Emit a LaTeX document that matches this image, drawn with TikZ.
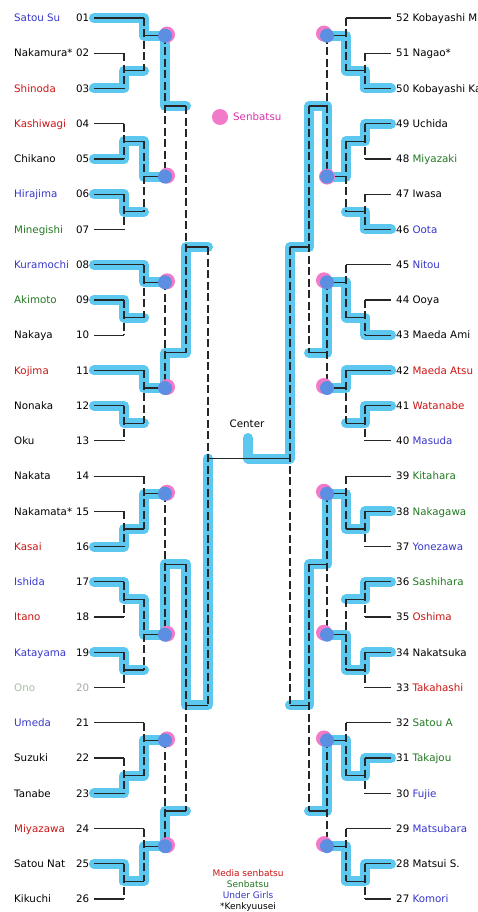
\documentclass[tikz,border=0pt]{standalone}
\usepackage{fontspec}
\setmainfont{DejaVu Sans}
\definecolor{hlblue}{RGB}{92,200,240}
\definecolor{dotblue}{RGB}{92,142,226}
\definecolor{dotpink}{RGB}{242,122,200}
\definecolor{senpink}{RGB}{214,51,168}
\definecolor{mred}{RGB}{204,20,20}
\definecolor{sgreen}{RGB}{34,120,34}
\definecolor{ublue}{RGB}{55,55,205}
\definecolor{onog}{RGB}{165,190,165}

\begin{document}
\begin{tikzpicture}[x=1pt,y=-1pt,
  hl/.style={line width=10pt,draw=hlblue,line cap=round,line join=round},
  hline/.style={line width=1.2pt,draw=black!85},
  vline/.style={line width=1.2pt,draw=black!85,dash pattern=on 8pt off 3.5pt},
  lname/.style={anchor=west,inner sep=0pt,text height=7.5pt,text depth=0pt,font=\fontsize{10.3}{12}\selectfont},
  lnum/.style={lname,anchor=east},
  sdot/.style={circle,fill=dotpink,minimum size=16pt,inner sep=0pt},
  wdot/.style={circle,fill=dotblue,minimum size=14pt,inner sep=0pt},
  legend/.style={anchor=center,inner sep=0pt,text height=6.5pt,text depth=0pt,font=\fontsize{9}{11}\selectfont}]
\fill[white] (0,0) rectangle (477,912);
\useasboundingbox (0,0) rectangle (477,912);

\draw[hl] (94,18.00)--(144,18.00)--(144,35.62)--(165,35.62)--(165,106.10)--(186,106.10);
\draw[hl] (94,88.48)--(124,88.48)--(124,70.86)--(144,70.86);
\draw[hl] (94,158.96)--(124,158.96)--(124,141.34)--(144,141.34)--(144,176.58)--(165,176.58);
\draw[hl] (94,194.20)--(124,194.20)--(124,211.82)--(144,211.82);
\draw[hl] (94,264.68)--(144,264.68)--(144,282.30)--(165,282.30);
\draw[hl] (94,299.92)--(124,299.92)--(124,317.54)--(144,317.54);
\draw[hl] (94,370.40)--(144,370.40)--(144,388.02)--(165,388.02)--(165,352.78)--(186,352.78)--(186,247.06)--(208,247.06);
\draw[hl] (94,405.64)--(124,405.64)--(124,423.26)--(144,423.26);
\draw[hl] (94,546.60)--(124,546.60)--(124,528.98)--(144,528.98)--(144,493.74)--(165,493.74);
\draw[hl] (94,581.84)--(124,581.84)--(124,599.46)--(144,599.46)--(144,634.70)--(165,634.70)--(165,564.22)--(186,564.22)--(186,705.18)--(208,705.18)--(208,458.50);
\draw[hl] (94,652.32)--(124,652.32)--(124,669.94)--(144,669.94);
\draw[hl] (94,793.28)--(124,793.28)--(124,775.66)--(144,775.66)--(144,740.42)--(165,740.42);
\draw[hl] (94,863.76)--(124,863.76)--(124,881.38)--(144,881.38)--(144,846.14)--(165,846.14)--(165,810.90)--(186,810.90);

\draw[hl] (391,88.48)--(365,88.48)--(365,70.86)--(346,70.86)--(346,35.62)--(327,35.62);
\draw[hl] (391,123.72)--(365,123.72)--(365,141.34)--(346,141.34)--(346,176.58)--(327,176.58)--(327,106.10)--(309,106.10)--(309,247.06)--(290,247.06)--(290,458.50)--(248,458.50)--(248,438);
\draw[hl] (391,229.44)--(365,229.44)--(365,211.82)--(346,211.82);
\draw[hl] (391,335.16)--(365,335.16)--(365,317.54)--(346,317.54)--(346,282.30)--(327,282.30)--(327,352.78)--(309,352.78);
\draw[hl] (391,370.40)--(346,370.40)--(346,388.02)--(327,388.02);
\draw[hl] (391,405.64)--(365,405.64)--(365,423.26)--(346,423.26);
\draw[hl] (391,511.36)--(365,511.36)--(365,528.98)--(346,528.98)--(346,493.74)--(327,493.74)--(327,564.22)--(309,564.22)--(309,705.18)--(290,705.18);
\draw[hl] (391,581.84)--(365,581.84)--(365,599.46)--(346,599.46);
\draw[hl] (391,652.32)--(365,652.32)--(365,669.94)--(346,669.94)--(346,634.70)--(327,634.70);
\draw[hl] (391,758.04)--(365,758.04)--(365,775.66)--(346,775.66)--(346,740.42)--(327,740.42)--(327,810.90)--(309,810.90);
\draw[hl] (391,863.76)--(365,863.76)--(365,881.38)--(346,881.38)--(346,846.14)--(327,846.14);

\draw[hline] (94,18.00)--(144,18.00) (94,53.24)--(124,53.24) (94,88.48)--(124,88.48) (94,123.72)--(124,123.72) (94,158.96)--(124,158.96) (94,194.20)--(124,194.20) (94,229.44)--(124,229.44);
\draw[hline] (94,264.68)--(144,264.68) (94,299.92)--(124,299.92) (94,335.16)--(124,335.16) (94,370.40)--(144,370.40) (94,405.64)--(124,405.64) (94,440.88)--(124,440.88);
\draw[hline] (94,476.12)--(144,476.12) (94,511.36)--(124,511.36) (94,546.60)--(124,546.60) (94,581.84)--(124,581.84) (94,617.08)--(124,617.08) (94,652.32)--(124,652.32) (94,687.56)--(124,687.56);
\draw[hline] (94,722.80)--(144,722.80) (94,758.04)--(124,758.04) (94,793.28)--(124,793.28) (94,828.52)--(144,828.52) (94,863.76)--(124,863.76) (94,899.00)--(124,899.00);
\draw[vline] (124,53.24)--(124,88.48) (124,123.72)--(124,158.96) (124,194.20)--(124,229.44) (124,299.92)--(124,335.16) (124,405.64)--(124,440.88) (124,511.36)--(124,546.60) (124,581.84)--(124,617.08) (124,652.32)--(124,687.56) (124,758.04)--(124,793.28) (124,863.76)--(124,899.00);
\draw[hline] (124,70.86)--(144,70.86) (124,141.34)--(144,141.34) (124,211.82)--(144,211.82) (124,317.54)--(144,317.54) (124,423.26)--(144,423.26) (124,528.98)--(144,528.98) (124,599.46)--(144,599.46) (124,669.94)--(144,669.94) (124,775.66)--(144,775.66) (124,881.38)--(144,881.38);
\draw[vline] (144,18.00)--(144,70.86) (144,141.34)--(144,211.82) (144,264.68)--(144,317.54) (144,370.40)--(144,423.26) (144,476.12)--(144,528.98) (144,599.46)--(144,669.94) (144,722.80)--(144,775.66) (144,828.52)--(144,881.38);
\draw[hline] (144,35.62)--(165,35.62) (144,176.58)--(165,176.58) (144,282.30)--(165,282.30) (144,388.02)--(165,388.02) (144,493.74)--(165,493.74) (144,634.70)--(165,634.70) (144,740.42)--(165,740.42) (144,846.14)--(165,846.14);
\draw[vline] (165,35.62)--(165,176.58) (165,282.30)--(165,388.02) (165,493.74)--(165,634.70) (165,740.42)--(165,846.14);
\draw[hline] (165,106.10)--(186,106.10) (165,352.78)--(186,352.78) (165,564.22)--(186,564.22) (165,810.90)--(186,810.90);
\draw[vline] (186,106.10)--(186,352.78) (186,564.22)--(186,810.90);
\draw[hline] (186,247.06)--(208,247.06) (186,705.18)--(208,705.18);
\draw[vline] (208,247.06)--(208,705.18);
\draw[hline] (208,458.50)--(290,458.50);

\draw[hline] (391,18.00)--(346,18.00) (391,53.24)--(365,53.24) (391,88.48)--(365,88.48) (391,123.72)--(365,123.72) (391,158.96)--(365,158.96) (391,194.20)--(365,194.20) (391,229.44)--(365,229.44);
\draw[hline] (391,264.68)--(346,264.68) (391,299.92)--(365,299.92) (391,335.16)--(365,335.16) (391,370.40)--(346,370.40) (391,405.64)--(365,405.64) (391,440.88)--(365,440.88);
\draw[hline] (391,476.12)--(346,476.12) (391,511.36)--(365,511.36) (391,546.60)--(365,546.60) (391,581.84)--(365,581.84) (391,617.08)--(365,617.08) (391,652.32)--(365,652.32) (391,687.56)--(365,687.56);
\draw[hline] (391,722.80)--(346,722.80) (391,758.04)--(365,758.04) (391,793.28)--(365,793.28) (391,828.52)--(346,828.52) (391,863.76)--(365,863.76) (391,899.00)--(365,899.00);
\draw[vline] (365,53.24)--(365,88.48) (365,123.72)--(365,158.96) (365,194.20)--(365,229.44) (365,299.92)--(365,335.16) (365,405.64)--(365,440.88) (365,511.36)--(365,546.60) (365,581.84)--(365,617.08) (365,652.32)--(365,687.56) (365,758.04)--(365,793.28) (365,863.76)--(365,899.00);
\draw[hline] (365,70.86)--(346,70.86) (365,141.34)--(346,141.34) (365,211.82)--(346,211.82) (365,317.54)--(346,317.54) (365,423.26)--(346,423.26) (365,528.98)--(346,528.98) (365,599.46)--(346,599.46) (365,669.94)--(346,669.94) (365,775.66)--(346,775.66) (365,881.38)--(346,881.38);
\draw[vline] (346,18.00)--(346,70.86) (346,141.34)--(346,211.82) (346,264.68)--(346,317.54) (346,370.40)--(346,423.26) (346,476.12)--(346,528.98) (346,599.46)--(346,669.94) (346,722.80)--(346,775.66) (346,828.52)--(346,881.38);
\draw[hline] (346,35.62)--(327,35.62) (346,176.58)--(327,176.58) (346,282.30)--(327,282.30) (346,388.02)--(327,388.02) (346,493.74)--(327,493.74) (346,634.70)--(327,634.70) (346,740.42)--(327,740.42) (346,846.14)--(327,846.14);
\draw[vline] (327,35.62)--(327,176.58) (327,282.30)--(327,388.02) (327,493.74)--(327,634.70) (327,740.42)--(327,846.14);
\draw[hline] (327,106.10)--(309,106.10) (327,352.78)--(309,352.78) (327,564.22)--(309,564.22) (327,810.90)--(309,810.90);
\draw[vline] (309,106.10)--(309,352.78) (309,564.22)--(309,810.90);
\draw[hline] (309,247.06)--(290,247.06) (309,705.18)--(290,705.18);
\draw[vline] (290,247.06)--(290,705.18);

\node[sdot] (sl1) at (167,34.6) {};
\node[sdot] (sl2) at (167,175.6) {};
\node[sdot] (sl3) at (167,281.3) {};
\node[sdot] (sl4) at (167,387.0) {};
\node[sdot] (sl5) at (167,492.7) {};
\node[sdot] (sl6) at (167,633.7) {};
\node[sdot] (sl7) at (167,739.4) {};
\node[sdot] (sl8) at (167,845.1) {};
\node[sdot] (sr1) at (324,33.6) {};
\node[sdot] (sr2) at (327,176.6) {};
\node[sdot] (sr3) at (324,280.3) {};
\node[sdot] (sr4) at (324,386.0) {};
\node[sdot] (sr5) at (324,491.7) {};
\node[sdot] (sr6) at (324,632.7) {};
\node[sdot] (sr7) at (324,738.4) {};
\node[sdot] (sr8) at (324,844.1) {};
\node[wdot] (wl1) at (165,35.62) {};
\node[wdot] (wl2) at (165,176.58) {};
\node[wdot] (wl3) at (165,282.30) {};
\node[wdot] (wl4) at (165,388.02) {};
\node[wdot] (wl5) at (165,493.74) {};
\node[wdot] (wl6) at (165,634.70) {};
\node[wdot] (wl7) at (165,740.42) {};
\node[wdot] (wl8) at (165,846.14) {};
\node[wdot] (wr1) at (327,35.62) {};
\node[wdot] (wr2) at (327,176.58) {};
\node[wdot] (wr3) at (327,282.30) {};
\node[wdot] (wr4) at (327,388.02) {};
\node[wdot] (wr5) at (327,493.74) {};
\node[wdot] (wr6) at (327,634.70) {};
\node[wdot] (wr7) at (327,740.42) {};
\node[wdot] (wr8) at (327,846.14) {};

\node[sdot] (keydot) at (220,117) {};
\node[lname,text=senpink] (keytext) at (233,117) {Senbatsu};
\node[lname,anchor=center] (center) at (247,424) {Center};

\node[lname,text=ublue] (nm01) at (14,18.00) {Satou Su};
\node[lname] (nm02) at (14,53.24) {Nakamura*};
\node[lname,text=mred] (nm03) at (14,88.48) {Shinoda};
\node[lname,text=mred] (nm04) at (14,123.72) {Kashiwagi};
\node[lname] (nm05) at (14,158.96) {Chikano};
\node[lname,text=ublue] (nm06) at (14,194.20) {Hirajima};
\node[lname,text=sgreen] (nm07) at (14,229.44) {Minegishi};
\node[lname,text=ublue] (nm08) at (14,264.68) {Kuramochi};
\node[lname,text=sgreen] (nm09) at (14,299.92) {Akimoto};
\node[lname] (nm10) at (14,335.16) {Nakaya};
\node[lname,text=mred] (nm11) at (14,370.40) {Kojima};
\node[lname] (nm12) at (14,405.64) {Nonaka};
\node[lname] (nm13) at (14,440.88) {Oku};
\node[lname] (nm14) at (14,476.12) {Nakata};
\node[lname] (nm15) at (14,511.36) {Nakamata*};
\node[lname,text=mred] (nm16) at (14,546.60) {Kasai};
\node[lname,text=ublue] (nm17) at (14,581.84) {Ishida};
\node[lname,text=mred] (nm18) at (14,617.08) {Itano};
\node[lname,text=ublue] (nm19) at (14,652.32) {Katayama};
\node[lname,text=onog] (nm20) at (14,687.56) {Ono};
\node[lname,text=ublue] (nm21) at (14,722.80) {Umeda};
\node[lname] (nm22) at (14,758.04) {Suzuki};
\node[lname] (nm23) at (14,793.28) {Tanabe};
\node[lname,text=mred] (nm24) at (14,828.52) {Miyazawa};
\node[lname] (nm25) at (14,863.76) {Satou Nat};
\node[lname] (nm26) at (14,899.00) {Kikuchi};

\node[lnum] (no01) at (89.5,18.00) {01};
\node[lnum] (no02) at (89.5,53.24) {02};
\node[lnum] (no03) at (89.5,88.48) {03};
\node[lnum] (no04) at (89.5,123.72) {04};
\node[lnum] (no05) at (89.5,158.96) {05};
\node[lnum] (no06) at (89.5,194.20) {06};
\node[lnum] (no07) at (89.5,229.44) {07};
\node[lnum] (no08) at (89.5,264.68) {08};
\node[lnum] (no09) at (89.5,299.92) {09};
\node[lnum] (no10) at (89.5,335.16) {10};
\node[lnum] (no11) at (89.5,370.40) {11};
\node[lnum] (no12) at (89.5,405.64) {12};
\node[lnum] (no13) at (89.5,440.88) {13};
\node[lnum] (no14) at (89.5,476.12) {14};
\node[lnum] (no15) at (89.5,511.36) {15};
\node[lnum] (no16) at (89.5,546.60) {16};
\node[lnum] (no17) at (89.5,581.84) {17};
\node[lnum] (no18) at (89.5,617.08) {18};
\node[lnum] (no19) at (89.5,652.32) {19};
\node[lnum,text=black!35] (no20) at (89.5,687.56) {20};
\node[lnum] (no21) at (89.5,722.80) {21};
\node[lnum] (no22) at (89.5,758.04) {22};
\node[lnum] (no23) at (89.5,793.28) {23};
\node[lnum] (no24) at (89.5,828.52) {24};
\node[lnum] (no25) at (89.5,863.76) {25};
\node[lnum] (no26) at (89.5,899.00) {26};

\node[lname] (nm52) at (396,18.00) {52 Kobayashi M};
\node[lname] (nm51) at (396,53.24) {51 Nagao*};
\node[lname] (nm50) at (396,88.48) {50 Kobayashi Ka};
\node[lname] (nm49) at (396,123.72) {49 Uchida};
\node[lname] (nm48) at (396,158.96) {48 \textcolor{sgreen}{Miyazaki}};
\node[lname] (nm47) at (396,194.20) {47 Iwasa};
\node[lname] (nm46) at (396,229.44) {46 \textcolor{ublue}{Oota}};
\node[lname] (nm45) at (396,264.68) {45 \textcolor{ublue}{Nitou}};
\node[lname] (nm44) at (396,299.92) {44 Ooya};
\node[lname] (nm43) at (396,335.16) {43 Maeda Ami};
\node[lname] (nm42) at (396,370.40) {42 \textcolor{mred}{Maeda Atsu}};
\node[lname] (nm41) at (396,405.64) {41 \textcolor{mred}{Watanabe}};
\node[lname] (nm40) at (396,440.88) {40 \textcolor{ublue}{Masuda}};
\node[lname] (nm39) at (396,476.12) {39 \textcolor{sgreen}{Kitahara}};
\node[lname] (nm38) at (396,511.36) {38 \textcolor{sgreen}{Nakagawa}};
\node[lname] (nm37) at (396,546.60) {37 \textcolor{ublue}{Yonezawa}};
\node[lname] (nm36) at (396,581.84) {36 \textcolor{sgreen}{Sashihara}};
\node[lname] (nm35) at (396,617.08) {35 \textcolor{mred}{Oshima}};
\node[lname] (nm34) at (396,652.32) {34 Nakatsuka};
\node[lname] (nm33) at (396,687.56) {33 \textcolor{mred}{Takahashi}};
\node[lname] (nm32) at (396,722.80) {32 \textcolor{sgreen}{Satou A}};
\node[lname] (nm31) at (396,758.04) {31 \textcolor{sgreen}{Takajou}};
\node[lname] (nm30) at (396,793.28) {30 \textcolor{ublue}{Fujie}};
\node[lname] (nm29) at (396,828.52) {29 \textcolor{ublue}{Matsubara}};
\node[lname] (nm28) at (396,863.76) {28 Matsui S.};
\node[lname] (nm27) at (396,899.00) {27 \textcolor{ublue}{Komori}};

\node[legend,text=mred] (key1) at (248,873) {Media senbatsu};
\node[legend,text=sgreen] (key2) at (248,884) {Senbatsu};
\node[legend,text=ublue] (key3) at (248,895) {Under Girls};
\node[legend] (key4) at (248,906) {*Kenkyuusei};
\end{tikzpicture}
\end{document}
